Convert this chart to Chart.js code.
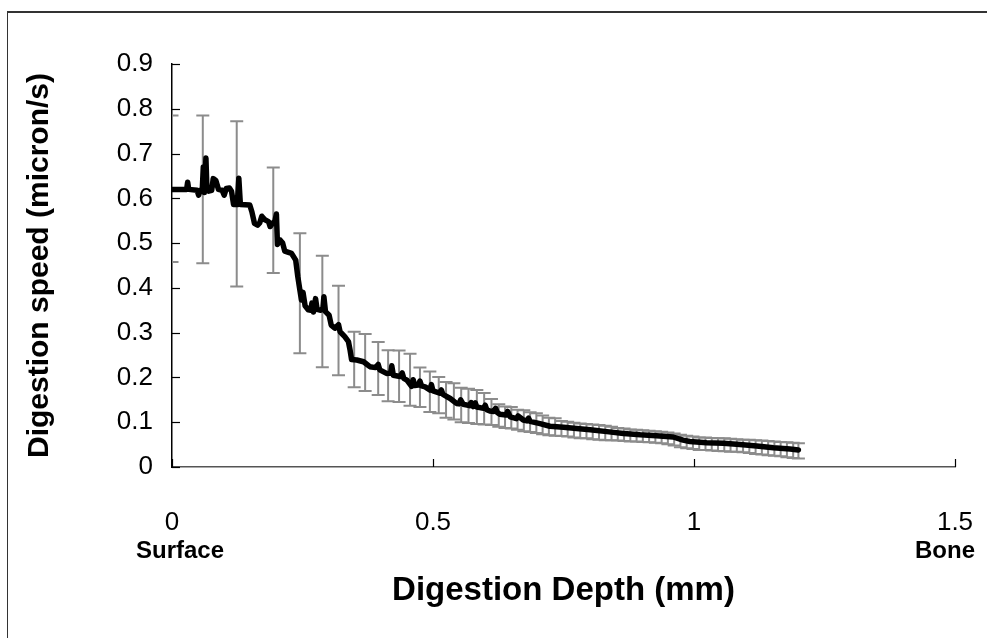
<!DOCTYPE html>
<html><head><meta charset="utf-8">
<script src="https://cdn.jsdelivr.net/npm/chart.js@4/dist/chart.umd.min.js"></script>
<style>
html,body{margin:0;padding:0;background:#fff;}
#wrap{position:relative;width:987px;height:638px;overflow:hidden;}
#frame{position:absolute;left:7px;top:11px;right:-5px;bottom:-5px;border-top:2px solid #333;border-left:1px solid #333;pointer-events:none;}
canvas{display:block}
</style></head><body>
<div id="wrap"><canvas id="c" width="987" height="638"></canvas><div id="frame"></div></div>
<script>
// Mean digestion speed vs depth (dense trace)
const depth = [0.000,0.028,0.030,0.032,0.048,0.051,0.054,0.058,0.060,0.062,0.065,0.067,0.070,0.076,0.079,0.084,0.089,0.096,0.100,0.104,0.110,0.114,0.118,0.125,0.128,0.131,0.149,0.153,0.158,0.164,0.168,0.172,0.178,0.185,0.188,0.193,0.197,0.200,0.202,0.207,0.212,0.216,0.229,0.237,0.241,0.245,0.248,0.251,0.255,0.261,0.266,0.268,0.271,0.275,0.278,0.285,0.289,0.291,0.294,0.301,0.305,0.312,0.319,0.322,0.331,0.338,0.341,0.344,0.354,0.367,0.379,0.390,0.395,0.398,0.411,0.419,0.421,0.424,0.437,0.441,0.444,0.450,0.459,0.462,0.465,0.472,0.475,0.478,0.485,0.494,0.497,0.500,0.513,0.516,0.519,0.533,0.545,0.550,0.553,0.558,0.570,0.573,0.577,0.581,0.584,0.597,0.600,0.603,0.609,0.616,0.620,0.623,0.628,0.640,0.643,0.648,0.660,0.663,0.673,0.680,0.683,0.686,0.705,0.724,0.750,0.775,0.801,0.833,0.865,0.897,0.928,0.960,0.979,0.992,1.024,1.056,1.088,1.120,1.152,1.184,1.200];
const speed = [0.620,0.620,0.636,0.620,0.618,0.607,0.618,0.620,0.670,0.613,0.690,0.618,0.616,0.618,0.644,0.640,0.620,0.618,0.607,0.622,0.623,0.616,0.586,0.586,0.645,0.586,0.585,0.570,0.544,0.540,0.545,0.560,0.552,0.548,0.537,0.545,0.548,0.565,0.497,0.507,0.500,0.482,0.477,0.462,0.425,0.395,0.373,0.390,0.360,0.351,0.350,0.366,0.346,0.376,0.352,0.350,0.353,0.380,0.347,0.339,0.317,0.310,0.318,0.302,0.291,0.280,0.262,0.240,0.239,0.235,0.224,0.222,0.229,0.217,0.209,0.210,0.226,0.205,0.202,0.210,0.198,0.194,0.180,0.195,0.182,0.183,0.192,0.181,0.179,0.172,0.184,0.170,0.165,0.172,0.162,0.153,0.142,0.141,0.150,0.140,0.137,0.144,0.135,0.143,0.134,0.131,0.138,0.128,0.125,0.124,0.131,0.122,0.118,0.116,0.124,0.112,0.108,0.114,0.105,0.103,0.109,0.102,0.097,0.091,0.089,0.086,0.083,0.079,0.075,0.072,0.070,0.067,0.060,0.057,0.054,0.053,0.050,0.047,0.043,0.040,0.038];
// Error bars: depth, upper and lower ends
const errDepth = [0.000,0.059,0.124,0.194,0.245,0.288,0.319,0.349,0.370,0.395,0.414,0.435,0.456,0.475,0.494,0.511,0.525,0.540,0.554,0.568,0.584,0.598,0.612,0.626,0.638,0.650,0.662,0.674,0.686,0.698,0.710,0.722,0.734,0.746,0.758,0.770,0.782,0.794,0.806,0.818,0.830,0.842,0.854,0.866,0.878,0.890,0.902,0.914,0.926,0.938,0.950,0.962,0.974,0.986,0.998,1.010,1.022,1.034,1.046,1.058,1.070,1.082,1.094,1.106,1.118,1.130,1.142,1.154,1.166,1.178,1.190,1.200];
const errHigh = [0.785,0.785,0.772,0.669,0.522,0.472,0.405,0.302,0.297,0.279,0.261,0.260,0.253,0.222,0.213,0.201,0.190,0.187,0.177,0.175,0.172,0.165,0.152,0.140,0.135,0.134,0.128,0.127,0.122,0.120,0.115,0.110,0.109,0.103,0.101,0.099,0.097,0.096,0.095,0.094,0.092,0.090,0.087,0.086,0.084,0.083,0.082,0.081,0.080,0.079,0.077,0.075,0.072,0.070,0.068,0.066,0.066,0.065,0.064,0.064,0.063,0.062,0.061,0.061,0.060,0.059,0.058,0.057,0.056,0.055,0.054,0.053];
const errLow = [0.458,0.455,0.403,0.433,0.254,0.223,0.205,0.178,0.170,0.161,0.147,0.145,0.137,0.134,0.123,0.120,0.110,0.106,0.100,0.098,0.096,0.095,0.094,0.090,0.087,0.086,0.083,0.080,0.078,0.076,0.073,0.071,0.070,0.069,0.068,0.066,0.064,0.064,0.062,0.061,0.060,0.060,0.059,0.058,0.057,0.057,0.056,0.055,0.054,0.053,0.051,0.048,0.044,0.042,0.040,0.038,0.038,0.037,0.036,0.035,0.034,0.034,0.033,0.031,0.029,0.028,0.026,0.025,0.024,0.022,0.020,0.019];
const xTicks = [0, 0.5, 1, 1.5];
const yTicks = [0,0.1,0.2,0.3,0.4,0.5,0.6,0.7,0.8,0.9];
const endLabels = [{value: 0, text: 'Surface', dx: 8}, {value: 1.5, text: 'Bone', dx: -10}];
const xTitle = 'Digestion Depth (mm)';
const yTitle = 'Digestion speed (micron/s)';

const FONT = "'Liberation Sans', Arial, sans-serif";

const errorBarPlugin = {
  id: 'errorBars',
  beforeDatasetsDraw(chart) {
    const {ctx, chartArea: a, scales: {x, y}} = chart;
    ctx.save();
    ctx.beginPath(); ctx.rect(a.left, a.top - 2, a.right - a.left, a.bottom - a.top + 4); ctx.clip();
    ctx.strokeStyle = '#8c8c8c'; ctx.lineWidth = 2;
    for (let i = 0; i < errDepth.length; i++) {
      const px = x.getPixelForValue(errDepth[i]);
      const hi = y.getPixelForValue(errHigh[i]);
      const lo = y.getPixelForValue(errLow[i]);
      ctx.beginPath();
      ctx.moveTo(px, hi); ctx.lineTo(px, lo);
      ctx.moveTo(px - 6.5, hi); ctx.lineTo(px + 6.5, hi);
      ctx.moveTo(px - 6.5, lo); ctx.lineTo(px + 6.5, lo);
      ctx.stroke();
    }
    ctx.restore();
  }
};

const innerTicksPlugin = {
  id: 'innerTicks',
  afterDraw(chart) {
    const {ctx, chartArea: a, scales: {x, y}} = chart;
    ctx.save();
    ctx.strokeStyle = '#000'; ctx.lineWidth = 1.2;
    yTicks.forEach(v => {
      const py = Math.round(y.getPixelForValue(v)) + 0.5;
      ctx.beginPath(); ctx.moveTo(a.left, py); ctx.lineTo(a.left + 8, py); ctx.stroke();
    });
    xTicks.forEach(v => {
      const px = Math.round(x.getPixelForValue(v)) + 0.5;
      ctx.beginPath(); ctx.moveTo(px, a.bottom); ctx.lineTo(px, a.bottom - 8); ctx.stroke();
    });
    ctx.fillStyle = '#000';
    ctx.font = 'bold 24px ' + FONT;
    ctx.textAlign = 'center'; ctx.textBaseline = 'middle';
    endLabels.forEach(l => {
      ctx.fillText(l.text, x.getPixelForValue(l.value) + l.dx, 551);
    });
    ctx.restore();
  }
};

new Chart(document.getElementById('c'), {
  type: 'line',
  data: {
    datasets: [{
      data: depth.map((d, i) => ({x: d, y: speed[i]})),
      borderColor: '#000',
      borderWidth: 5.5,
      borderJoinStyle: 'round',
      borderCapStyle: 'round',
      pointRadius: 0,
      tension: 0,
      fill: false
    }]
  },
  options: {
    responsive: false,
    animation: false,
    devicePixelRatio: 1,
    layout: {padding: {top: 64, right: 32, left: 0, bottom: 0}},
    plugins: {legend: {display: false}, tooltip: {enabled: false}},
    scales: {
      x: {
        type: 'linear', min: 0, max: 1.5,
        afterFit: s => { s.height = 171; },
        afterBuildTicks: s => { s.ticks = xTicks.map(v => ({value: v})); },
        grid: {display: true, drawOnChartArea: false, drawTicks: true, tickLength: 40, tickColor: 'rgba(0,0,0,0)'},
        border: {display: true, color: '#555', width: 1.5},
        ticks: {color: '#000', font: {family: FONT, size: 26}, padding: 0, maxRotation: 0, autoSkip: false,
          callback: v => String(+v.toFixed(1))},
        title: {display: true, text: xTitle, color: '#000', font: {family: FONT, size: 33, weight: 'bold'}, padding: {top: 0, bottom: 27}}
      },
      y: {
        type: 'linear', min: 0, max: 0.9,
        afterFit: s => { s.width = 172; },
        afterBuildTicks: s => { s.ticks = yTicks.map(v => ({value: v})); },
        grid: {display: true, drawOnChartArea: false, drawTicks: false},
        border: {display: true, color: '#000', width: 1.5},
        ticks: {color: '#000', font: {family: FONT, size: 26}, padding: 19, autoSkip: false,
          callback: v => String(+v.toFixed(1))},
        title: {display: true, text: yTitle, color: '#000', font: {family: FONT, size: 30, weight: 'bold'}, padding: {top: 22, bottom: 0}}
      }
    }
  },
  plugins: [errorBarPlugin, innerTicksPlugin]
});
</script>
</body></html>
